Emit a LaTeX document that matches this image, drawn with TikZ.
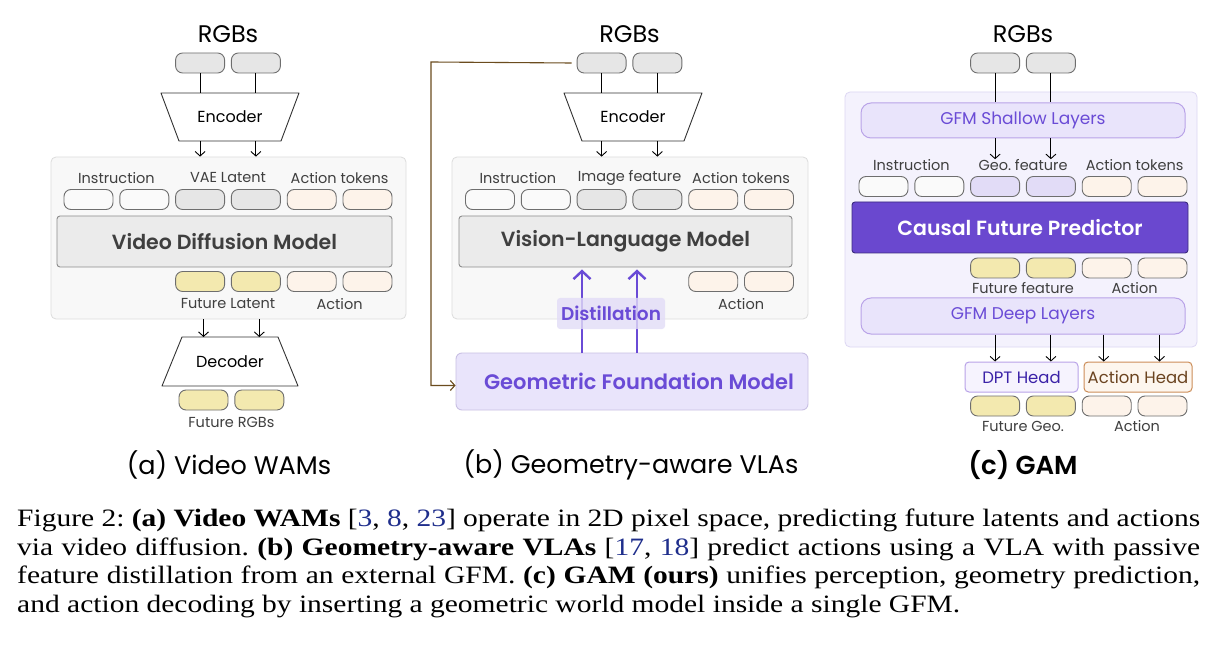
\documentclass[tikz,border=0pt]{standalone}
\usepackage{fontspec}
\setsansfont{Poppins}[BoldFont={Poppins SemiBold}]
\newfontfamily\capfont[FakeStretch=1.18]{Liberation Serif}
\usepackage{xcolor}
\usepackage{tikz}
\usetikzlibrary{positioning, arrows.meta}

\definecolor{tokline}{HTML}{6E6E6E}
\definecolor{tokwhite}{HTML}{FAFAFA}
\definecolor{tokgray}{HTML}{E6E6E6}
\definecolor{tokpeach}{HTML}{FDF3EA}
\definecolor{tokyellow}{HTML}{F3E9AF}
\definecolor{toklilac}{HTML}{E2DCF7}
\definecolor{lbltext}{HTML}{3F3F3F}
\definecolor{panelgray}{HTML}{F8F8F8}
\definecolor{paneledge}{HTML}{DCDCDC}
\definecolor{modelgray}{HTML}{EBEBEB}
\definecolor{modeledge}{HTML}{8C8C8C}
\definecolor{gfmpurple}{HTML}{6A4BD6}
\definecolor{gfmfill}{HTML}{E9E4FB}
\definecolor{gfmedge}{HTML}{C9C0E4}
\definecolor{panellilac}{HTML}{F4F2FD}
\definecolor{lilacedge}{HTML}{DDD7F3}
\definecolor{layeredge}{HTML}{B9A3E8}
\definecolor{cfpfill}{HTML}{6A48CF}
\definecolor{cfpedge}{HTML}{3A2A7E}
\definecolor{dpttext}{HTML}{3B22A8}
\definecolor{dptfill}{HTML}{F6F3FE}
\definecolor{headfill}{HTML}{FDF6EE}
\definecolor{headedge}{HTML}{CC8D58}
\definecolor{headtext}{HTML}{6B4420}
\definecolor{wirebrown}{HTML}{6B4C1E}
\definecolor{citeblue}{HTML}{1F2E8C}

\begin{document}
\frenchspacing
\begin{tikzpicture}[x=1pt, y=-1pt, font=\sffamily]
    \tikzset{tok/.style = {draw=tokline, line width=0.9pt, rounded corners=7pt, minimum width=49pt, minimum height=20pt, inner sep=0pt}}
    \tikzset{lbl/.style = {text=lbltext, inner sep=0pt, font=\sffamily\fontsize{14.5}{16}\selectfont}}
    \tikzset{title/.style = {inner sep=0pt, font=\sffamily\fontsize{24}{28}\selectfont}}
    \tikzset{sub/.style = {inner sep=0pt, font=\sffamily\fontsize{25.5}{28}\selectfont}}
    \tikzset{panel/.style = {draw=paneledge, fill=panelgray, rounded corners=5pt, line width=0.8pt, inner sep=0pt}}
    \tikzset{model/.style = {draw=modeledge, fill=modelgray, rounded corners=3pt, line width=0.9pt, text=lbltext, font=\sffamily\bfseries\fontsize{20.5}{23}\selectfont}}
    \tikzset{trap/.style = {draw=black!80, fill=white, line width=0.9pt, line join=round}}
    \tikzset{layer/.style = {draw=layeredge, fill=gfmfill, rounded corners=10pt, line width=1pt, text=gfmpurple, minimum width=324pt, font=\sffamily\fontsize{17}{20}\selectfont}}
    \tikzset{head/.style = {rounded corners=4pt, line width=1pt, minimum height=30pt, font=\sffamily\fontsize{16.5}{19}\selectfont}}
    \tikzset{smallarrow/.style = {-{Straight Barb[length=4.5pt,width=10pt]}, line width=0.9pt}}
    \tikzset{distarrow/.style = {-{Straight Barb[length=8pt,width=17pt]}, line width=2.4pt, gfmpurple, shorten >=2pt}}
    \tikzset{capline/.style = {anchor=base west, inner sep=0pt, font=\capfont\fontsize{25}{29}\selectfont}}

    \useasboundingbox[fill=white] (0,0) rectangle (1219,647);

    % panels
    \node[panel, minimum width=355pt, minimum height=162pt] (panelA) at (228.5,238) {};
    \node[panel, minimum width=356pt, minimum height=162pt] (panelB) at (630,238) {};
    \node[panel, draw=lilacedge, fill=panellilac, minimum width=352pt, minimum height=255pt] (panelC) at (1021,219.5) {};

    % (a) video WAMs
    \node[title] (rgbsA) at (228,34) {RGBs};
    \node[tok, fill=tokgray] (rgbA1) at (200.1,63) {};
    \node[tok, fill=tokgray] (rgbA2) at (255.9,63) {};
    \draw[trap] (161,93) -- (299,93) -- (281,141) -- (179,141) -- cycle;
    \coordinate (encAtop) at (230,93);
    \coordinate (encAbot) at (230,141);
    \node[font=\sffamily\fontsize{16}{18}\selectfont] (encA) at (230,117) {Encoder};
    \draw[line width=0.9pt] (rgbA1.south) -- (rgbA1 |- encAtop);
    \draw[line width=0.9pt] (rgbA2.south) -- (rgbA2 |- encAtop);
    \draw[smallarrow] (rgbA1 |- encAbot) -- (rgbA1 |- panelA.north);
    \draw[smallarrow] (rgbA2 |- encAbot) -- (rgbA2 |- panelA.north);

    \node[lbl] (instrA) at (116.4,178) {Instruction};
    \node[lbl] (vaeA) at (228,178) {VAE Latent};
    \node[lbl] (acttokA) at (339.6,178) {Action tokens};
    \node[tok, fill=tokwhite] (inA1) at (88.5,199.5) {};
    \node[tok, fill=tokwhite] (inA2) at (144.3,199.5) {};
    \node[tok, fill=tokgray] (inA3) at (200.1,199.5) {};
    \node[tok, fill=tokgray] (inA4) at (255.9,199.5) {};
    \node[tok, fill=tokpeach] (inA5) at (311.7,199.5) {};
    \node[tok, fill=tokpeach] (inA6) at (367.5,199.5) {};
    \node[model, minimum width=335pt, minimum height=51pt] (vdm) at (224.5,241.5) {Video Diffusion Model};
    \node[tok, fill=tokyellow] (outA3) at (200.1,281.5) {};
    \node[tok, fill=tokyellow] (outA4) at (255.9,281.5) {};
    \node[tok, fill=tokpeach] (outA5) at (311.7,281.5) {};
    \node[tok, fill=tokpeach] (outA6) at (367.5,281.5) {};
    \node[lbl] (futlatA) at (228,304) {Future Latent};
    \node[lbl] (actA) at (339.6,304) {Action};

    \draw[trap] (182,337) -- (278,337) -- (298,386) -- (162,386) -- cycle;
    \coordinate (decAtop) at (230,337);
    \node[font=\sffamily\fontsize{16}{18}\selectfont] (decA) at (230,362) {Decoder};
    \node[tok, fill=tokyellow] (futA1) at (203.5,400) {};
    \node[tok, fill=tokyellow] (futA2) at (259.3,400) {};
    \draw[smallarrow] (futA1 |- panelA.south) -- (futA1 |- decAtop);
    \draw[smallarrow] (futA2 |- panelA.south) -- (futA2 |- decAtop);
    \node[lbl] (futrgbA) at (231.4,422) {Future RGBs};
    \node[sub] (capA) at (229,465) {(a) Video WAMs};

    % (b) geometry-aware VLAs
    \node[title] (rgbsB) at (629.5,34) {RGBs};
    \node[tok, fill=tokgray] (rgbB1) at (601.6,63) {};
    \node[tok, fill=tokgray] (rgbB2) at (657.4,63) {};
    \draw[trap] (564,93) -- (702,93) -- (684,141) -- (582,141) -- cycle;
    \coordinate (encBtop) at (633,93);
    \coordinate (encBbot) at (633,141);
    \node[font=\sffamily\fontsize{16}{18}\selectfont] (encB) at (633,117) {Encoder};
    \draw[line width=0.9pt] (rgbB1.south) -- (rgbB1 |- encBtop);
    \draw[line width=0.9pt] (rgbB2.south) -- (rgbB2 |- encBtop);
    \draw[smallarrow] (rgbB1 |- encBbot) -- (rgbB1 |- panelB.north);
    \draw[smallarrow] (rgbB2 |- encBbot) -- (rgbB2 |- panelB.north);

    \node[lbl] (instrB) at (517.9,178) {Instruction};
    \node[lbl] (imgB) at (629.5,178) {Image feature};
    \node[lbl] (acttokB) at (741.1,178) {Action tokens};
    \node[tok, fill=tokwhite] (inB1) at (490,199.5) {};
    \node[tok, fill=tokwhite] (inB2) at (545.8,199.5) {};
    \node[tok, fill=tokgray] (inB3) at (601.6,199.5) {};
    \node[tok, fill=tokgray] (inB4) at (657.4,199.5) {};
    \node[tok, fill=tokpeach] (inB5) at (713.2,199.5) {};
    \node[tok, fill=tokpeach] (inB6) at (769,199.5) {};
    \node[model, minimum width=333pt, minimum height=51pt] (vlm) at (625.5,241.5) {Vision-Language Model};
    \node[tok, fill=tokpeach] (outB5) at (713.2,281.5) {};
    \node[tok, fill=tokpeach] (outB6) at (769,281.5) {};
    \node[lbl] (actB) at (741.1,304) {Action};

    \node[draw=gfmedge, fill=gfmfill, rounded corners=6pt, line width=0.9pt, minimum width=352pt, minimum height=57pt, text=gfmpurple, font=\sffamily\bfseries\fontsize{21}{24}\selectfont] (gfmB) at (632,381.5) {\hspace*{14pt}Geometric Foundation Model};
    \coordinate (distB1) at (582,353);
    \coordinate (distB2) at (637,353);
    \draw[distarrow] (distB1) -- (distB1 |- vlm.south);
    \draw[distarrow] (distB2) -- (distB2 |- vlm.south);
    \node[fill=toklilac, fill opacity=0.8, text opacity=1, rounded corners=3pt, inner sep=0pt, minimum width=108pt, minimum height=31pt, text=gfmpurple, font=\sffamily\bfseries\fontsize{18.5}{20}\selectfont] (dist) at (611,313.5) {Distillation};

    % RGBs also go to the GFM
    \coordinate (wireB) at (431,62);
    \draw[wirebrown, line width=1.1pt, -{Straight Barb[length=4.5pt,width=10pt]}] ([xshift=-5pt]rgbB1.west) -- (wireB) |- ([yshift=-4pt]gfmB.west);
    \node[sub] (capB) at (631,465) {(b) Geometry-aware VLAs};

    % (c) GAM
    \node[title] (rgbsC) at (1023,34) {RGBs};
    \node[tok, fill=tokgray] (rgbC1) at (995.1,63) {};
    \node[tok, fill=tokgray] (rgbC2) at (1050.9,63) {};
    \node[layer, minimum height=35pt] (shallow) at (1023,120.5) {GFM Shallow Layers};
    \draw[line width=0.9pt] (rgbC1.south) -- (rgbC1 |- shallow.north);
    \draw[line width=0.9pt] (rgbC2.south) -- (rgbC2 |- shallow.north);

    \node[lbl] (instrC) at (911.4,165) {Instruction};
    \node[lbl] (geoC) at (1023,165) {Geo. feature};
    \node[lbl] (acttokC) at (1134.6,165) {Action tokens};
    \draw[smallarrow] (rgbC1 |- shallow.south) -- (rgbC1 |- geoC.north);
    \draw[smallarrow] (rgbC2 |- shallow.south) -- (rgbC2 |- geoC.north);
    \node[tok, fill=tokwhite] (inC1) at (883.5,186.5) {};
    \node[tok, fill=tokwhite] (inC2) at (939.3,186.5) {};
    \node[tok, fill=toklilac] (inC3) at (995.1,186.5) {};
    \node[tok, fill=toklilac] (inC4) at (1050.9,186.5) {};
    \node[tok, fill=tokpeach] (inC5) at (1106.7,186.5) {};
    \node[tok, fill=tokpeach] (inC6) at (1162.5,186.5) {};
    \node[draw=cfpedge, fill=cfpfill, rounded corners=3pt, line width=0.9pt, minimum width=336pt, minimum height=51pt, text=white, font=\sffamily\bfseries\fontsize{20.5}{23}\selectfont] (cfp) at (1020,227.5) {Causal Future Predictor};
    \node[tok, fill=tokyellow] (outC3) at (995.1,268) {};
    \node[tok, fill=tokyellow] (outC4) at (1050.9,268) {};
    \node[tok, fill=tokpeach] (outC5) at (1106.7,268) {};
    \node[tok, fill=tokpeach] (outC6) at (1162.5,268) {};
    \node[lbl] (futfeatC) at (1023,288) {Future feature};
    \node[lbl] (actC) at (1134.6,288) {Action};
    \node[layer, minimum height=36pt] (deep) at (1023,316) {GFM Deep Layers};

    \node[head, draw=layeredge, fill=dptfill, text=dpttext, minimum width=113pt] (dpt) at (1021.5,377) {DPT Head};
    \node[head, draw=headedge, fill=headfill, text=headtext, minimum width=108pt] (acthead) at (1138,377) {Action Head};
    \node[tok, fill=tokyellow] (geoOut1) at (995.1,406) {};
    \node[tok, fill=tokyellow] (geoOut2) at (1050.9,406) {};
    \node[tok, fill=tokpeach] (actOut1) at (1106.7,406) {};
    \node[tok, fill=tokpeach] (actOut2) at (1162.5,406) {};
    \draw[smallarrow] (geoOut1 |- deep.south) -- (geoOut1 |- dpt.north);
    \draw[smallarrow] (geoOut2 |- deep.south) -- (geoOut2 |- dpt.north);
    \draw[smallarrow] ([xshift=-3pt]actOut1.north |- deep.south) -- ([xshift=-3pt]actOut1.north |- acthead.north);
    \draw[smallarrow] ([xshift=-3pt]actOut2.north |- deep.south) -- ([xshift=-3pt]actOut2.north |- acthead.north);
    \node[lbl] (futgeoC) at (1023,426) {Future Geo.};
    \node[lbl] (actOutC) at (1137,426) {Action};
    \node[sub, font=\sffamily\bfseries\fontsize{26}{28}\selectfont] (capC) at (1023,465) {(c) GAM};

    % caption
    \node[capline] (cap1) at (17,526) {\makebox[1183pt][s]{Figure 2: \textbf{(a) Video WAMs} [{\color{citeblue}3}, {\color{citeblue}8}, {\color{citeblue}23}] operate in 2D pixel space, predicting future latents and actions}};
    \node[capline] (cap2) at (17,555) {\makebox[1183pt][s]{via video diffusion. \textbf{(b) Geometry-aware VLAs} [{\color{citeblue}17}, {\color{citeblue}18}] predict actions using a VLA with passive}};
    \node[capline] (cap3) at (17,583.5) {\makebox[1183pt][s]{feature distillation from an external GFM. \textbf{(c) GAM (ours)} unifies perception, geometry prediction,}};
    \node[capline] (cap4) at (17,612) {and action decoding by inserting a geometric world model inside a single GFM.};
\end{tikzpicture}
\end{document}
